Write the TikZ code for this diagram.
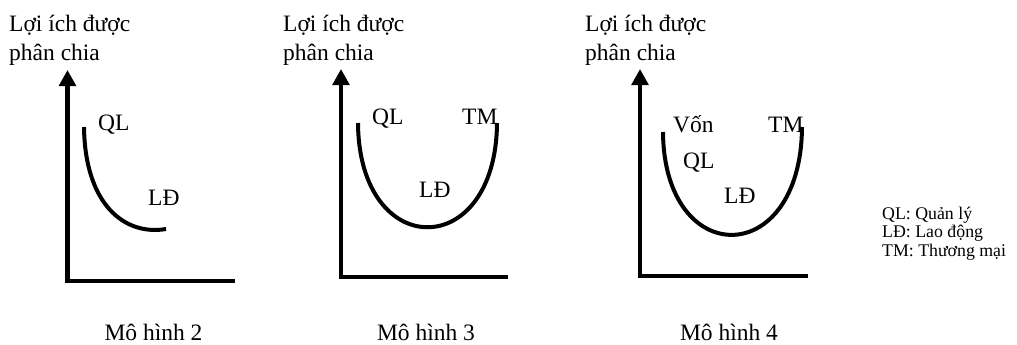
\documentclass[tikz,border=0pt]{standalone}
\usepackage{fontspec}
\setmainfont{Liberation Serif}
\usetikzlibrary{arrows.meta}
\begin{document}
\begin{tikzpicture}[x=1pt,y=-1pt,
  axis/.style={line width=4.5pt,line join=miter,{Triangle[length=16pt,width=16.5pt]}-},
  curve/.style={line width=4pt},
  lbl/.style={font=\fontsize{23.5}{28}\selectfont,inner sep=0pt,anchor=base west},
  caption/.style={font=\fontsize{23.5}{28}\selectfont,inner sep=0pt,anchor=base},
  leg/.style={font=\fontsize{17.8}{18.5}\selectfont,inner sep=0pt,anchor=base west}]
\useasboundingbox (0,0) rectangle (1017,345);

% Panel 1
\node[lbl] (t1a) at (9,31.5) {Lợi ích được};
\node[lbl] (t1b) at (9,60) {phân chia};
\draw[axis] (67.5,70) -- (67.5,281) -- (235,281);
\draw[curve] (84,127) .. controls (85,205) and (125,236) .. (166,229);
\node[lbl] (ql1) at (98,130) {QL};
\node[lbl] (ld1) at (148,205) {LĐ};
\node[caption] (m2) at (153.5,340) {Mô hình 2};

% Panel 2
\node[lbl] (t2a) at (283,31.5) {Lợi ích được};
\node[lbl] (t2b) at (283,60) {phân chia};
\draw[axis] (341,69) -- (341,277) -- (508,277);
\draw[curve] (358,123) .. controls (359,262) and (496,262) .. (497,123);
\node[lbl] (ql2) at (372,124) {QL};
\node[lbl] (tm2) at (462,124) {TM};
\node[lbl] (ld2) at (419,197) {LĐ};
\node[caption] (m3) at (426,340) {Mô hình 3};

% Panel 3
\node[lbl] (t3a) at (585,31.5) {Lợi ích được};
\node[lbl] (t3b) at (585,60) {phân chia};
\draw[axis] (640,69) -- (640,276) -- (808,276);
\draw[curve] (663,132) .. controls (664,270) and (801,270) .. (802,127);
\node[lbl] (von3) at (673,132) {Vốn};
\node[lbl] (tm3) at (768,132) {TM};
\node[lbl] (ql3) at (683,168) {QL};
\node[lbl] (ld3) at (724,203) {LĐ};
\node[caption] (m4) at (729,340) {Mô hình 4};

% Legend
\node[leg] (lg1) at (882,219) {QL: Quản lý};
\node[leg] (lg2) at (882,237.5) {LĐ: Lao động};
\node[leg] (lg3) at (882,256) {TM: Thương mại};
\end{tikzpicture}
\end{document}
